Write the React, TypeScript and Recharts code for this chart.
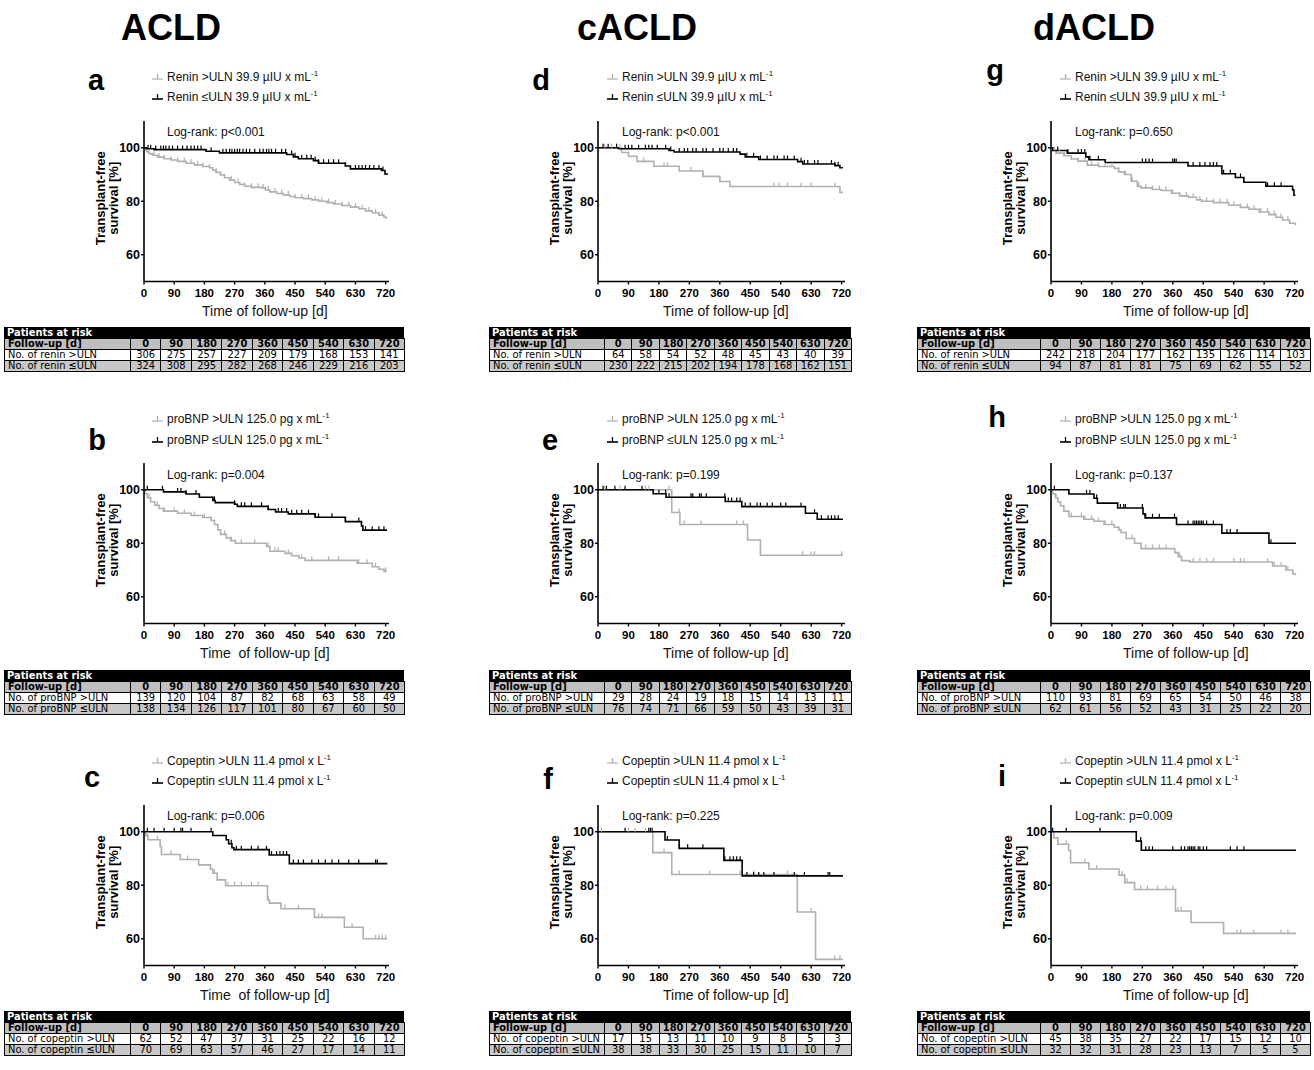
import React from 'react';
import { LineChart, Line, XAxis, YAxis } from 'recharts';

type Step = [number, number];

// ---------------- shared labels / ticks ----------------
const GROUPS = ['ACLD', 'cACLD', 'dACLD'];
const X_TICKS = [0, 90, 180, 270, 360, 450, 540, 630, 720];
const Y_TICKS = [60, 80, 100];
const FOLLOW_UP = [0, 90, 180, 270, 360, 450, 540, 630, 720];
const LEGEND_HIGH = ['Renin >ULN 39.9 µIU x mL', 'proBNP >ULN 125.0 pg x mL', 'Copeptin >ULN 11.4 pmol x L'];
const LEGEND_LOW = ['Renin ≤ULN 39.9 µIU x mL', 'proBNP ≤ULN 125.0 pg x mL', 'Copeptin ≤ULN 11.4 pmol x L'];
const RISK_HIGH_LABEL = ['No. of renin >ULN', 'No. of proBNP >ULN', 'No. of copeptin >ULN'];
const RISK_LOW_LABEL = ['No. of renin ≤ULN', 'No. of proBNP ≤ULN', 'No. of copeptin ≤ULN'];

// ---------------- a: ACLD renin ----------------
const A_HIGH: Step[] = [[0,100],[3,99.2],[8,98.5],[15,97.8],[25,97.2],[40,96.5],[60,95.9],[80,95.4],[100,94.9],[125,94.2],[150,93.6],[175,93.0],[195,92.5],[205,91.6],[215,90.8],[228,89.8],[240,88.8],[255,87.9],[270,87.0],[285,86.3],[300,85.6],[320,85.2],[350,85.0],[362,84.2],[375,83.5],[395,82.9],[415,82.4],[435,81.8],[450,81.3],[475,81.0],[500,80.5],[520,80.0],[545,79.5],[565,79.0],[590,78.4],[615,77.8],[640,77.2],[660,76.4],[680,75.7],[700,74.8],[715,74.0],[722,73.5]];
const A_HIGH_CENS = [15,30,45,60,80,100,120,140,160,175,195,215,240,260,280,300,320,340,355,370,390,410,430,450,470,490,510,530,550,570,590,610,630,650,670,690,710];
const A_LOW: Step[] = [[0,100],[8,99.6],[30,99.3],[185,98.7],[225,98.1],[425,97.5],[445,96.6],[460,95.9],[505,95.2],[520,94.2],[600,93.2],[615,92.1],[708,91.5],[718,90.2],[724,89.8]];
const A_LOW_CENS = [12,20,35,50,58,65,75,85,100,115,128,140,150,160,170,200,235,245,255,262,270,278,285,295,305,315,330,345,355,365,372,380,392,410,422,440,450,470,485,498,510,520,535,550,565,580,600,630,640,650,660,672,685,700,712];
const A_RISK_HIGH = [306,275,257,227,209,179,168,153,141];
const A_RISK_LOW = [324,308,295,282,268,246,229,216,203];

// ---------------- b: ACLD proBNP ----------------
const B_HIGH: Step[] = [[0,100],[4,98.5],[10,97.0],[20,95.5],[32,94.2],[45,93.0],[58,92.0],[100,91.2],[140,90.4],[175,89.6],[200,88.5],[210,87.0],[220,85.0],[228,83.3],[245,82.0],[258,81.0],[272,80.0],[365,78.8],[375,77.0],[420,76.2],[440,75.3],[462,74.5],[480,73.6],[635,72.5],[680,71.2],[700,70.3],[715,69.5],[724,69.5]];
const B_HIGH_CENS = [15,40,60,90,120,150,180,200,240,260,290,330,370,390,400,430,470,500,550,580,640,665,690,720];
const B_LOW: Step[] = [[0,100],[58,99.2],[125,98.4],[165,97.2],[205,96.0],[212,95.2],[270,94.6],[278,93.8],[370,92.6],[392,91.7],[430,91.0],[510,89.7],[600,88.1],[648,86.5],[652,84.9],[724,84.9]];
const B_LOW_CENS = [10,55,100,110,125,155,205,210,270,290,300,320,350,370,400,410,425,440,455,470,490,510,520,560,600,640,660,680,700,715];
const B_RISK_HIGH = [139,120,104,87,82,68,63,58,49];
const B_RISK_LOW = [138,134,126,117,101,80,67,60,50];

// ---------------- c: ACLD copeptin ----------------
const C_HIGH: Step[] = [[0,100],[5,98.5],[12,97.0],[48,94.5],[52,91.5],[108,89.6],[163,87.6],[198,86.0],[205,84.5],[218,82.0],[243,79.8],[368,74.5],[374,73.3],[408,71.2],[508,68.0],[597,64.3],[653,60.0],[725,60.0]];
const C_HIGH_CENS = [10,40,80,130,210,250,270,290,320,340,370,420,460,520,530,620,690,700,710,720];
const C_LOW: Step[] = [[0,100],[205,98.6],[245,97.0],[252,95.5],[262,94.0],[268,93.3],[373,91.3],[433,88.1],[725,88.1]];
const C_LOW_CENS = [10,30,60,90,110,115,140,200,260,275,290,320,340,365,380,395,405,415,425,445,460,475,500,520,540,560,580,610,640,690,695];
const C_RISK_HIGH = [62,52,47,37,31,25,22,16,12];
const C_RISK_LOW = [70,69,63,57,46,27,17,14,11];

// ---------------- d: cACLD renin ----------------
const D_HIGH: Step[] = [[0,100],[70,98.2],[90,96.8],[115,94.9],[165,93.1],[240,91.3],[310,89.3],[360,87.4],[390,85.5],[715,83.3],[724,83.3]];
const D_HIGH_CENS = [20,40,55,65,135,195,205,275,310,360,520,535,560,600,630,700];
const D_LOW: Step[] = [[0,100],[60,99.6],[210,99.0],[225,98.4],[420,97.6],[435,96.6],[475,95.6],[590,94.8],[605,93.9],[700,93.3],[715,92.5],[724,92.5]];
const D_LOW_CENS = [15,30,55,80,90,100,120,140,150,160,175,200,215,240,255,265,280,290,310,320,340,360,370,385,400,410,440,460,480,500,520,530,550,560,580,600,610,620,640,650,690,700,710];
const D_RISK_HIGH = [64,58,54,52,48,45,43,40,39];
const D_RISK_LOW = [230,222,215,202,194,178,168,162,151];

// ---------------- e: cACLD proBNP ----------------
const E_HIGH: Step[] = [[0,100],[218,91.5],[242,87.0],[442,81.2],[480,75.5],[724,75.5]];
const E_HIGH_CENS = [20,65,140,150,210,240,255,305,410,430,605,630,640,720];
const E_LOW: Step[] = [[0,100],[163,98.5],[201,97.2],[376,95.6],[425,93.7],[613,91.2],[648,89.0],[724,89.0]];
const E_LOW_CENS = [15,25,50,80,130,180,200,210,275,280,300,305,320,375,385,395,410,420,435,450,470,480,500,515,540,555,600,640,660,680,690,700,710];
const E_RISK_HIGH = [29,28,24,19,18,15,14,13,11];
const E_RISK_LOW = [76,74,71,66,59,50,43,39,31];

// ---------------- f: cACLD copeptin ----------------
const F_HIGH: Step[] = [[0,100],[162,92.2],[218,84.0],[589,70.0],[643,52.3],[724,52.3]];
const F_HIGH_CENS = [10,90,110,140,195,240,330,420,460,560,630,700,715];
const F_LOW: Step[] = [[0,100],[198,96.9],[240,93.8],[372,89.3],[426,83.5],[724,83.5]];
const F_LOW_CENS = [80,150,155,160,205,240,265,310,375,390,400,410,420,440,460,475,490,520,580,610,680,685];
const F_RISK_HIGH = [17,15,13,11,10,9,8,5,3];
const F_RISK_LOW = [38,38,33,30,25,15,11,10,7];

// ---------------- g: dACLD renin ----------------
const G_HIGH: Step[] = [[0,100],[5,99],[15,98],[38,97],[60,95.8],[80,95],[107,93.5],[140,93],[187,92.3],[200,91],[217,90],[237,87.5],[255,85.6],[266,85],[300,84.4],[326,84],[356,83],[380,82],[406,81.5],[430,80.5],[445,80],[480,79.5],[525,78.5],[560,77.7],[585,77],[615,76],[644,75],[665,74],[684,73],[705,71.8],[722,71]];
const G_HIGH_CENS = [10,25,40,60,80,100,120,140,160,180,200,220,240,260,280,300,320,340,360,380,400,420,440,460,480,500,520,540,560,580,600,620,640,660,680,700];
const G_LOW: Step[] = [[0,100],[5,99.0],[48,98.0],[103,96.6],[112,95.5],[160,94.5],[405,93.2],[505,90.3],[545,88.9],[570,87.1],[635,85.6],[714,84.2],[718,82.3],[722,82.3]];
const G_LOW_CENS = [20,50,80,90,100,115,140,270,280,290,300,360,365,370,420,440,455,470,480,490,510,530,560,640,660,680];
const G_RISK_HIGH = [242,218,204,177,162,135,126,114,103];
const G_RISK_LOW = [94,87,81,81,75,69,62,55,52];

// ---------------- h: dACLD proBNP ----------------
const H_HIGH: Step[] = [[0,100],[5,98.5],[13,97.0],[20,95.5],[28,94.0],[38,92.0],[53,90.0],[97,89.0],[127,88.2],[157,87.0],[187,86.0],[200,85.0],[207,84.0],[222,81.8],[247,80.0],[266,78.0],[366,76.5],[376,75.0],[386,73.5],[410,73.0],[655,71.5],[694,70.0],[715,68.5],[722,68.0]];
const H_HIGH_CENS = [15,60,90,100,120,140,160,180,200,240,280,300,320,340,380,420,440,460,480,540,560,570,640,660,680,700];
const H_LOW: Step[] = [[0,100],[53,98.4],[127,96.8],[137,95.0],[197,93.2],[272,91.0],[278,89.5],[371,87.0],[505,83.8],[644,80.0],[724,80.0]];
const H_LOW_CENS = [10,105,115,135,205,215,220,270,280,300,320,365,405,420,425,430,435,440,445,450,460,480,520,530,550,650];
const H_RISK_HIGH = [110,93,81,69,65,54,50,46,38];
const H_RISK_LOW = [62,61,56,52,43,31,25,22,20];

// ---------------- i: dACLD copeptin ----------------
const I_HIGH: Step[] = [[0,100],[8,97.7],[20,95.3],[52,93.0],[58,88.4],[112,86.1],[201,83.8],[218,81.0],[247,78.4],[368,70.4],[414,66.1],[510,62.0],[724,62.0]];
const I_HIGH_CENS = [20,45,100,135,210,225,265,285,315,340,360,375,385,550,560,600,680,700];
const I_LOW: Step[] = [[0,100],[252,96.5],[267,93.1],[724,93.1]];
const I_LOW_CENS = [5,45,145,265,280,290,300,360,385,395,405,410,415,420,425,435,440,450,460,530,550,570];
const I_RISK_HIGH = [45,38,35,27,22,17,15,12,10];
const I_RISK_LOW = [32,32,31,28,23,13,7,5,5];

const PANELS = [
  { letter: 'a', row: 0, col: 0, p: 'p<0.001', high: A_HIGH, highC: A_HIGH_CENS, low: A_LOW, lowC: A_LOW_CENS, rh: A_RISK_HIGH, rl: A_RISK_LOW, xl: 'Time of follow-up [d]' },
  { letter: 'b', row: 1, col: 0, p: 'p=0.004', high: B_HIGH, highC: B_HIGH_CENS, low: B_LOW, lowC: B_LOW_CENS, rh: B_RISK_HIGH, rl: B_RISK_LOW, xl: 'Time  of follow-up [d]' },
  { letter: 'c', row: 2, col: 0, p: 'p=0.006', high: C_HIGH, highC: C_HIGH_CENS, low: C_LOW, lowC: C_LOW_CENS, rh: C_RISK_HIGH, rl: C_RISK_LOW, xl: 'Time  of follow-up [d]' },
  { letter: 'd', row: 0, col: 1, p: 'p<0.001', high: D_HIGH, highC: D_HIGH_CENS, low: D_LOW, lowC: D_LOW_CENS, rh: D_RISK_HIGH, rl: D_RISK_LOW, xl: 'Time of follow-up [d]' },
  { letter: 'e', row: 1, col: 1, p: 'p=0.199', high: E_HIGH, highC: E_HIGH_CENS, low: E_LOW, lowC: E_LOW_CENS, rh: E_RISK_HIGH, rl: E_RISK_LOW, xl: 'Time of follow-up [d]' },
  { letter: 'f', row: 2, col: 1, p: 'p=0.225', high: F_HIGH, highC: F_HIGH_CENS, low: F_LOW, lowC: F_LOW_CENS, rh: F_RISK_HIGH, rl: F_RISK_LOW, xl: 'Time of follow-up [d]' },
  { letter: 'g', row: 0, col: 2, p: 'p=0.650', high: G_HIGH, highC: G_HIGH_CENS, low: G_LOW, lowC: G_LOW_CENS, rh: G_RISK_HIGH, rl: G_RISK_LOW, xl: 'Time of follow-up [d]' },
  { letter: 'h', row: 1, col: 2, p: 'p=0.137', high: H_HIGH, highC: H_HIGH_CENS, low: H_LOW, lowC: H_LOW_CENS, rh: H_RISK_HIGH, rl: H_RISK_LOW, xl: 'Time of follow-up [d]' },
  { letter: 'i', row: 2, col: 2, p: 'p=0.009', high: I_HIGH, highC: I_HIGH_CENS, low: I_LOW, lowC: I_LOW_CENS, rh: I_RISK_HIGH, rl: I_RISK_LOW, xl: 'Time of follow-up [d]' },
];

// ---------------- layout (styles, not data) ----------------
const FONT = '"Liberation Sans", Arial, Helvetica, sans-serif';
const NARROW = '"Liberation Sans Narrow", "Arial Narrow", "DejaVu Sans Condensed", "Liberation Sans", sans-serif';
const GRAY = '#b0b0b0';
const HEADER_X = [171, 637, 1094];
const COL_AXIS_X = [144.3, 598.3, 1050.7];
const COL_PLOT_W = [245, 247, 247];
const ROW_DY = [0, 342.5, 684];
const PLOT_TOP = 120.5;
const PLOT_H = 160.5;
const LEGEND_X = [152, 607, 1060];
const LOG_X = [167, 622, 1075];
const XLABEL_DX = [0, 6, 13];
const TABLE_BOX = [[4, 130, 404], [489, 604, 851], [917, 1040, 1310]];
const LETTER_POS: Record<string, [number, number]> = {
  a: [96, 80], d: [541, 80], g: [995, 70],
  b: [97, 440], e: [550, 440], h: [997, 417],
  c: [92, 777], f: [548, 779], i: [1002, 776],
};

function stepValueAt(steps: Step[], t: number) {
  let v = steps[0][1];
  for (const [st, sv] of steps) {
    if (st <= t) v = sv;
    else break;
  }
  return v;
}

function buildCurve(steps: Step[], cens: number[]) {
  const rows = steps.map(([t, s]) => ({ t, s, c: 0 }));
  for (const ct of cens) rows.push({ t: ct, s: stepValueAt(steps, ct), c: 1 });
  rows.sort((p, q) => p.t - q.t || p.c - q.c);
  return rows;
}

const makeDot = (color: string) => (props: any) => {
  const { cx, cy, payload, index } = props;
  if (!payload || !payload.c || cx == null || cy == null) return <g key={`n${index}`} />;
  return <line key={`c${index}`} x1={cx} x2={cx} y1={cy - 4} y2={cy} stroke={color} strokeWidth={1.2} />;
};

function LegendItem({ x, y, color, text, bold }: { x: number; y: number; color: string; text: string; bold: boolean }) {
  return (
    <div style={{ position: 'absolute', left: x, top: y - 8, height: 16, display: 'flex', alignItems: 'center', whiteSpace: 'nowrap', fontSize: 12, color: '#111', fontFamily: FONT }}>
      <svg width={11} height={12} style={{ marginRight: 4 }}>
        <line x1={0} y1={8} x2={11} y2={8} stroke={color} strokeWidth={bold ? 1.6 : 1.2} />
        <line x1={5.5} y1={3} x2={5.5} y2={8} stroke={color} strokeWidth={1.3} />
      </svg>
      <span>
        {text}
        <sup style={{ fontSize: 8, lineHeight: 0 }}>-1</sup>
      </span>
    </div>
  );
}

function RiskTable({ box, top, lab1, lab2, high, low }: { box: number[]; top: number; lab1: string; lab2: string; high: number[]; low: number[] }) {
  const [left, split, right] = box;
  const colW = (right - split) / 9;
  const cell: React.CSSProperties = { border: '1px solid #000', padding: 0, height: 10, textAlign: 'center', overflow: 'hidden', whiteSpace: 'nowrap' };
  const first: React.CSSProperties = { ...cell, textAlign: 'left', paddingLeft: 3 };
  const rowsBg = ['#bfbfbf', '#ffffff', '#c8c8c8'];
  const rows: [string, (number | string)[], boolean][] = [
    ['Follow-up [d]', FOLLOW_UP, true],
    [lab1, high, false],
    [lab2, low, false],
  ];
  return (
    <div style={{ position: 'absolute', left, top, width: right - left, fontFamily: NARROW, fontSize: 11, lineHeight: '10px', color: '#000' }}>
      <div style={{ background: '#000', color: '#fff', fontWeight: 700, height: 11, lineHeight: '11px', paddingLeft: 3, boxSizing: 'border-box' }}>Patients at risk</div>
      <table style={{ borderCollapse: 'collapse', tableLayout: 'fixed', width: right - left }}>
        <colgroup>
          <col style={{ width: split - left }} />
          {FOLLOW_UP.map((f) => (
            <col key={f} style={{ width: colW }} />
          ))}
        </colgroup>
        <tbody>
          {rows.map(([lab, vals, bold], ri) => (
            <tr key={ri} style={{ background: rowsBg[ri], fontWeight: bold ? 700 : 400 }}>
              <td style={first}>{lab}</td>
              {vals.map((v, k) => (
                <td key={k} style={cell}>{v}</td>
              ))}
            </tr>
          ))}
        </tbody>
      </table>
    </div>
  );
}

function Panel(p: (typeof PANELS)[number]) {
  const dy = ROW_DY[p.row];
  const ax = COL_AXIS_X[p.col];
  const plotW = COL_PLOT_W[p.col];
  const top = PLOT_TOP + dy;
  const W = 60 + plotW + 12;
  const H = 5 + PLOT_H + 45;
  const [lx, ly] = LETTER_POS[p.letter];
  const gray = buildCurve(p.high, p.highC);
  const black = buildCurve(p.low, p.lowC);
  const xCenter = 60 + (plotW * 720) / 730 / 2 + XLABEL_DX[p.col];

  const yLabel = () => {
    const cy = 5 + PLOT_H / 2 - 3;
    const x1 = 60 - 44;
    const x2 = 60 - 30.5;
    const st = { fontSize: 13, fontWeight: 700, fill: '#000', fontFamily: FONT };
    return (
      <g>
        <text x={x1} y={cy} transform={`rotate(-90 ${x1} ${cy})`} textAnchor="middle" dominantBaseline="central" style={st}>Transplant-free</text>
        <text x={x2} y={cy} transform={`rotate(-90 ${x2} ${cy})`} textAnchor="middle" dominantBaseline="central" style={st}>survival [%]</text>
      </g>
    );
  };
  const xLabel = () => (
    <text x={xCenter} y={5 + PLOT_H + 29} textAnchor="middle" dominantBaseline="central" style={{ fontSize: 14, fill: '#111', fontFamily: FONT, whiteSpace: 'pre' }} xmlSpace="preserve">
      {p.xl}
    </text>
  );

  return (
    <>
      <div style={{ position: 'absolute', left: lx - 20, top: ly - 18, width: 40, height: 36, lineHeight: '36px', textAlign: 'center', fontSize: 29, fontWeight: 700, fontFamily: FONT }}>{p.letter}</div>
      <LegendItem x={LEGEND_X[p.col]} y={76.7 + dy} color={GRAY} text={LEGEND_HIGH[p.row]} bold={false} />
      <LegendItem x={LEGEND_X[p.col]} y={97.3 + dy} color="#000" text={LEGEND_LOW[p.row]} bold={true} />
      <div style={{ position: 'absolute', left: LOG_X[p.col], top: 132 + dy - 8, height: 16, lineHeight: '16px', fontSize: 12, fontFamily: FONT, color: '#111', whiteSpace: 'nowrap' }}>Log-rank: {p.p}</div>
      <div style={{ position: 'absolute', left: ax - 60, top: top - 5 }}>
        <LineChart width={W} height={H} margin={{ top: 5, right: 12, bottom: 0, left: 0 }}>
          <XAxis
            type="number"
            dataKey="t"
            domain={[0, 730]}
            ticks={X_TICKS}
            interval={0}
            height={45}
            tickSize={3}
            tickMargin={4}
            allowDataOverflow
            axisLine={{ stroke: '#000', strokeWidth: 1.6 }}
            tickLine={{ stroke: '#000', strokeWidth: 1.4 }}
            tick={{ fontSize: 11.5, fontWeight: 700, fill: '#000', fontFamily: FONT }}
            label={xLabel}
          />
          <YAxis
            type="number"
            domain={[50, 110]}
            ticks={Y_TICKS}
            interval={0}
            width={60}
            tickSize={3}
            tickMargin={1}
            allowDataOverflow
            axisLine={{ stroke: '#000', strokeWidth: 1.6 }}
            tickLine={{ stroke: '#000', strokeWidth: 1.4 }}
            tick={{ fontSize: 12.5, fontWeight: 700, fill: '#000', fontFamily: FONT }}
            label={yLabel}
          />
          <Line data={gray} dataKey="s" type="stepAfter" stroke={GRAY} strokeWidth={1.6} dot={makeDot(GRAY)} activeDot={false} isAnimationActive={false} />
          <Line data={black} dataKey="s" type="stepAfter" stroke="#000" strokeWidth={1.6} dot={makeDot('#000')} activeDot={false} isAnimationActive={false} />
        </LineChart>
      </div>
      <RiskTable box={TABLE_BOX[p.col]} top={327 + dy} lab1={RISK_HIGH_LABEL[p.row]} lab2={RISK_LOW_LABEL[p.row]} high={p.rh} low={p.rl} />
    </>
  );
}

export default function App() {
  return (
    <div style={{ position: 'absolute', left: 0, top: 0, width: 1314, height: 1070, background: '#fff', overflow: 'hidden', fontFamily: FONT }}>
      {GROUPS.map((g, i) => (
        <div key={g} style={{ position: 'absolute', left: HEADER_X[i] - 100, top: 10, width: 200, textAlign: 'center', fontSize: 36, lineHeight: '36px', fontWeight: 700, fontFamily: FONT }}>{g}</div>
      ))}
      {PANELS.map((p) => (
        <Panel key={p.letter} {...p} />
      ))}
    </div>
  );
}
